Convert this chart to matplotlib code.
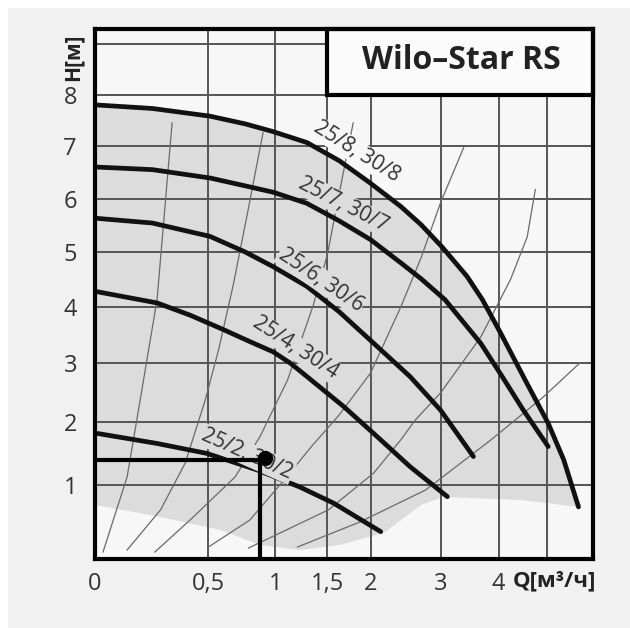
import numpy as np
import matplotlib
matplotlib.use('Agg')
import matplotlib.pyplot as plt
from matplotlib.patches import Rectangle

plt.rcParams['font.family'] = ['Open Sans', 'DejaVu Sans']

# pump curves (Q in m3/h, H in m)
q_8 = [0, 0.198, 0.51, 0.755, 0.98, 1.29, 1.63, 2.0, 2.4, 2.69, 3.01, 3.43, 3.70, 4.04,
       4.56, 5.02, 5.37, 5.72]
h_8 = [7.80, 7.73, 7.58, 7.43, 7.28, 7.07, 6.72, 6.29, 5.85, 5.51, 5.10, 4.55, 4.13, 3.53,
       2.66, 1.98, 1.39, 0.67]
q_7 = [0, 0.198, 0.51, 0.755, 0.98, 1.29, 1.63, 2.0, 2.4, 2.69, 3.06, 3.67, 4.07, 4.49, 5.02]
h_7 = [6.60, 6.55, 6.39, 6.24, 6.12, 5.91, 5.58, 5.23, 4.80, 4.51, 4.13, 3.35, 2.77, 2.20, 1.60]
q_6 = [0, 0.198, 0.51, 0.755, 0.98, 1.29, 1.63, 2.04, 2.53, 2.99, 3.54]
h_6 = [5.63, 5.54, 5.29, 5.00, 4.73, 4.37, 3.91, 3.35, 2.77, 2.20, 1.44]
q_4 = [0, 0.22, 0.39, 0.60, 0.79, 0.98, 1.134, 1.27, 1.68, 2.085, 2.53, 3.10]
h_4 = [4.28, 4.07, 3.85, 3.59, 3.38, 3.20, 3.00, 2.80, 2.26, 1.76, 1.28, 0.82]
q_2 = [0, 0.22, 0.49, 0.845, 1.22, 1.57, 2.13]
h_2 = [1.82, 1.65, 1.49, 1.23, 0.967, 0.723, 0.324]

pump_names = ['25/8, 30/8', '25/7, 30/7', '25/6, 30/6', '25/4, 30/4', '25/2, 30/2']
label_q = [1.83, 1.68, 1.43, 1.18, 0.77]
label_h = [6.89, 5.88, 4.49, 3.27, 1.48]
label_rot = [-32, -27, -34, -33, -24]

# thin system curves
sys_a_q = [0.021, 0.097, 0.147, 0.22, 0.293]
sys_a_h = [0.071, 1.12, 2.37, 4.13, 7.45]
sys_b_q = [0.097, 0.236, 0.363, 0.48, 0.565, 0.667, 0.777, 0.895]
sys_b_h = [0.094, 0.626, 1.34, 2.37, 3.23, 4.40, 5.79, 7.26]
sys_c_q = [0.21, 0.39, 0.68, 0.87, 1.107, 1.356, 1.50, 1.72, 1.79]
sys_c_h = [0.071, 0.483, 1.12, 1.76, 2.71, 4.04, 4.95, 6.87, 7.45]
sys_d_q = [0.50, 0.79, 1.09, 1.33, 1.63, 2.0, 2.40, 2.69, 2.99, 3.37]
sys_d_h = [0.129, 0.483, 1.10, 1.59, 2.12, 2.83, 4.00, 4.89, 5.92, 6.97]
sys_e_q = [0.78, 1.51, 2.04, 2.40, 2.61, 2.99, 3.67, 4.23, 4.57, 4.74]
sys_e_h = [0.117, 0.626, 1.18, 1.71, 2.04, 2.49, 3.46, 4.49, 5.28, 6.17]
sys_f_q = [1.2, 1.87, 2.76, 3.86, 4.91, 5.76]
sys_f_h = [0.129, 0.456, 0.921, 1.71, 2.42, 3.01]

# lower edge of the grey working field (right to left)
field_low_q = [4.43, 3.03, 2.69, 2.17, 1.63, 1.22, 0.87, 0.58, 0.19, 0]
field_low_h = [0.772, 0.816, 0.698, 0.306, 0.153, 0.094, 0.153, 0.346, 0.554, 0.698]

# operating point
op_q, op_h = 0.87, 1.39
dot_q, dot_h = 0.91, 1.42

q_ticks = [0, 0.5, 1, 1.5, 2, 3, 4, 5]
q_labels = ['0', '0,5', '1', '1,5', '2', '3', '4', '']
h_ticks = list(range(10))
h_labels = [''] + [str(i) for i in range(1, 9)] + ['']


# the chart uses stretched axes on both sides
def q_forward(q):
    q = np.asarray(q, dtype=float)
    lq = np.log(np.clip(q, 1e-6, None))
    return np.where(q > 0, np.exp(0.64 * lq - 0.043 * lq ** 2), 0.0)


_q_grid = np.concatenate([[0.0], np.geomspace(1e-4, 20, 3000)])
_u_grid = q_forward(_q_grid)


def q_inverse(u):
    return np.interp(np.asarray(u, dtype=float), _u_grid, _q_grid)


def h_forward(h):
    h = np.asarray(h, dtype=float)
    return np.sign(h) * np.abs(h) ** 0.88


def h_inverse(u):
    u = np.asarray(u, dtype=float)
    return np.sign(u) * np.abs(u) ** (1 / 0.88)


fig = plt.figure(figsize=(6.3, 6.28), dpi=100, facecolor='white')
fig.patches.append(Rectangle((8 / 630, 0), 1, 1 - 8 / 628, transform=fig.transFigure,
                             fc='#f1f1f1', ec='none', zorder=-10))
ax = fig.add_axes([95 / 630, 68.7 / 628, 497.7 / 630, 530 / 628])
ax.set_facecolor('#f7f7f7')
ax.set_xscale('function', functions=(q_forward, q_inverse))
ax.set_yscale('function', functions=(h_forward, h_inverse))
ax.set_xlim(0, 6.07)
ax.set_ylim(0, 9.29)

# grey field
poly_q = list(q_8) + field_low_q
poly_h = list(h_8) + field_low_h
ax.fill(poly_q, poly_h, color='#dcdcdc', lw=0, zorder=1)

ax.set_xticks(q_ticks, labels=q_labels)
ax.set_yticks(h_ticks, labels=h_labels)
ax.tick_params(length=0, labelsize=17, labelcolor='#333333')
ax.tick_params(axis='x', pad=9)
ax.tick_params(axis='y', pad=13)
ax.grid(True, color='#555555', linewidth=1.4)
for s in ax.spines.values():
    s.set_linewidth(3)
    s.set_color('black')
    s.set_zorder(6)

for qq, hh in [(sys_a_q, sys_a_h), (sys_b_q, sys_b_h), (sys_c_q, sys_c_h),
               (sys_d_q, sys_d_h), (sys_e_q, sys_e_h), (sys_f_q, sys_f_h)]:
    ax.plot(qq, hh, color='#6a6a6a', lw=0.9, zorder=2)

for qq, hh in [(q_8, h_8), (q_7, h_7), (q_6, h_6), (q_4, h_4), (q_2, h_2)]:
    ax.plot(qq, hh, color='#111111', lw=3.4, solid_capstyle='round',
            solid_joinstyle='round', zorder=3)

for i, name in enumerate(pump_names):
    bg = '#f7f7f7' if i == 0 else '#dcdcdc'
    ax.text(label_q[i], label_h[i], name, rotation=label_rot[i], rotation_mode='anchor',
            ha='center', va='center', fontsize=15, color='#333333', zorder=4,
            bbox=dict(boxstyle='square,pad=0.05', fc=bg, ec='none'))

ax.plot([0, op_q], [op_h, op_h], color='black', lw=3, solid_capstyle='butt', zorder=5)
ax.plot([op_q, op_q], [0, op_h], color='black', lw=3, solid_capstyle='butt', zorder=5)
ax.plot([dot_q], [dot_h], 'o', color='black', ms=10, zorder=5)

# title box
ax.add_patch(Rectangle((1.5, 8), 6.07 - 1.5, 9.29 - 8, fc='#fbfbfb', ec='black',
                       lw=3, zorder=5, clip_on=False))
ax.text(0.737, 0.942, 'Wilo–Star RS', transform=ax.transAxes, ha='center', va='center',
        fontsize=23, fontweight='bold', color='#222222', zorder=6)

ax.text(-0.044, 0.948, 'H[м]', transform=ax.transAxes, rotation=90, ha='center',
        va='center', fontsize=15, fontweight='bold', color='#222222')
ax.text(0.84, -0.041, 'Q[м³/ч]', transform=ax.transAxes, ha='left', va='center',
        fontsize=16, fontweight='bold', color='#222222')

fig.savefig('out.png', dpi=100, facecolor=fig.get_facecolor())
